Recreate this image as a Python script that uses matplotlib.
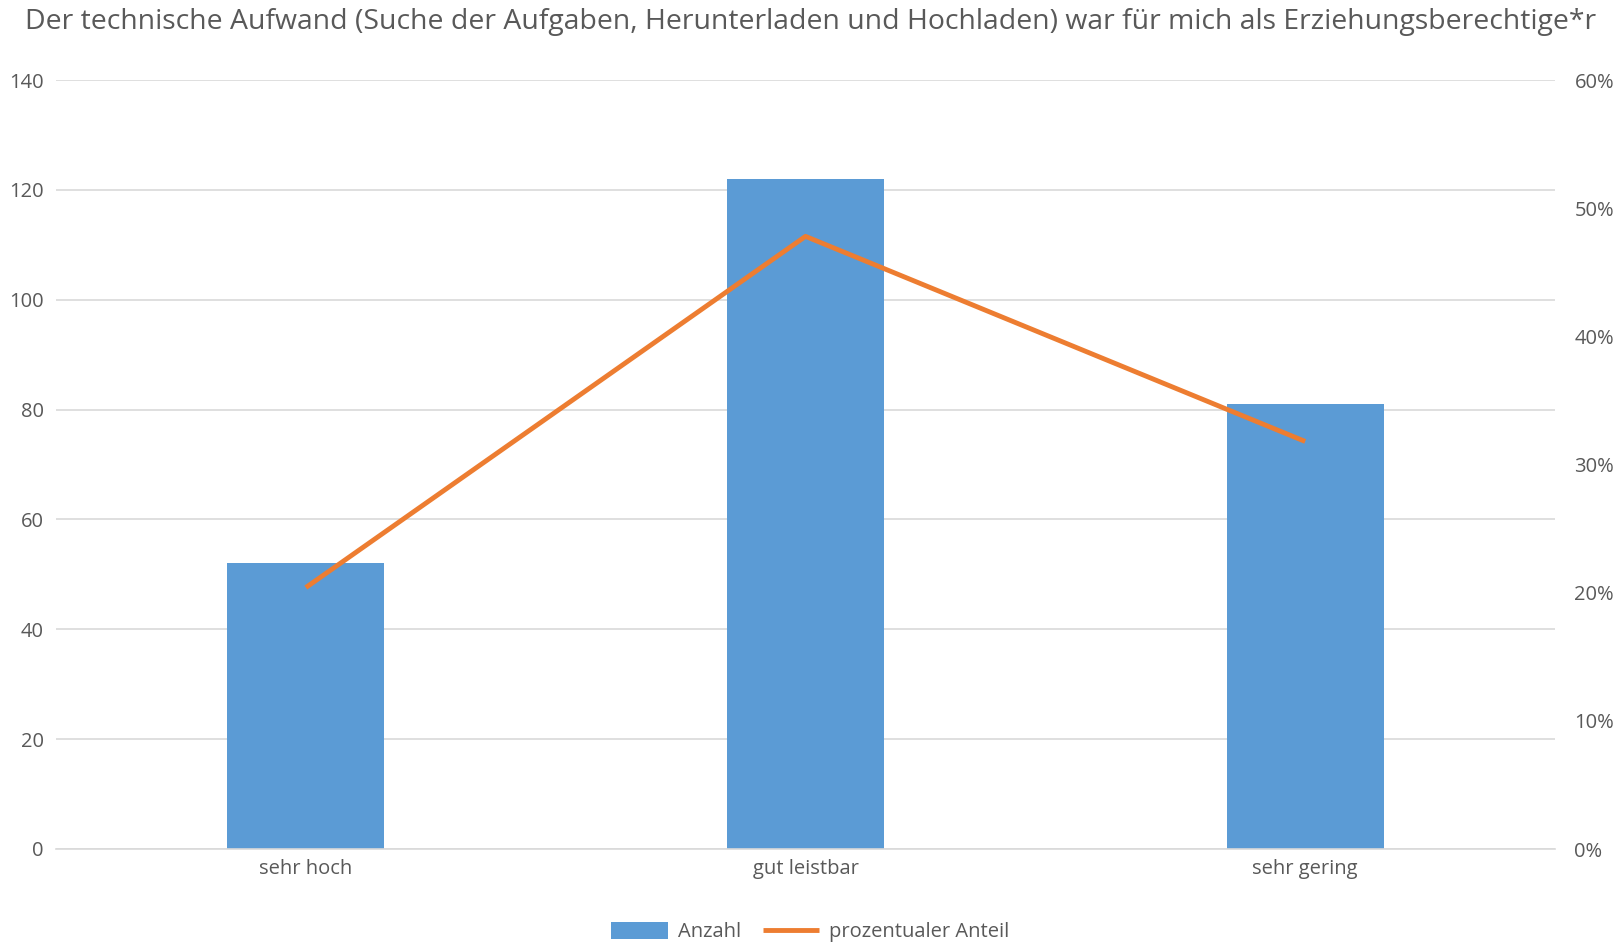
import matplotlib
matplotlib.use("Agg")
import matplotlib.pyplot as plt
from matplotlib.ticker import FuncFormatter

plt.rcParams['font.family'] = ['Open Sans', 'DejaVu Sans']

categories = ["sehr hoch", "gut leistbar", "sehr gering"]
anzahl = [52, 122, 81]
anteil = [0.204, 0.478, 0.318]

title = "Der technische Aufwand (Suche der Aufgaben, Herunterladen und Hochladen) war für mich als Erziehungsberechtige*r"
bar_color = "#5B9BD5"
line_color = "#ED7D31"
text_color = "#595959"
grid_color = "#D9D9D9"

fig = plt.figure(figsize=(16.21, 9.46), dpi=100)
ax = fig.add_axes([56 / 1621, 1 - 849 / 946, (1555 - 56) / 1621, (849 - 80) / 946])
x = list(range(len(categories)))
bars = ax.bar(x, anzahl, width=0.314, color=bar_color, label="Anzahl", zorder=2)
ax.set_xlim(-0.5, 2.5)
ax.set_ylim(0, 140)
ax.set_yticks(range(0, 141, 20))
ax.set_xticks(x)
ax.set_xticklabels(categories)
ax.grid(axis="y", color=grid_color, linewidth=1.2, zorder=0)
for s in ["top", "right", "left"]:
    ax.spines[s].set_visible(False)
ax.spines["bottom"].set_color(grid_color)
ax.spines["bottom"].set_linewidth(1.2)
ax.tick_params(axis="both", length=0, labelsize=14.5, colors=text_color, pad=7)
ax.tick_params(axis="y", pad=9)

ax2 = ax.twinx()
line, = ax2.plot(x, anteil, color=line_color, linewidth=3.5, label="prozentualer Anteil",
                 solid_capstyle="butt", zorder=3)
ax2.set_ylim(0, 0.6)
ax2.set_yticks([i / 10 for i in range(7)])
ax2.yaxis.set_major_formatter(FuncFormatter(lambda v, p: f"{v * 100:.0f}%"))
for s in ["top", "right", "left", "bottom"]:
    ax2.spines[s].set_visible(False)
ax2.tick_params(axis="y", length=0, labelsize=14.5, colors=text_color, pad=14)

fig.text(0.5, 1 - 22 / 946, title, ha="center", va="center", fontsize=20.4, color=text_color)

fig.legend(handles=[bars, line], loc="center", bbox_to_anchor=(0.5, 1 - 932 / 946), ncol=2,
           frameon=False, fontsize=14.5, labelcolor=text_color, handlelength=2.8,
           handleheight=0.9, columnspacing=1.1, handletextpad=0.5)

fig.savefig("out.png", dpi=100)
